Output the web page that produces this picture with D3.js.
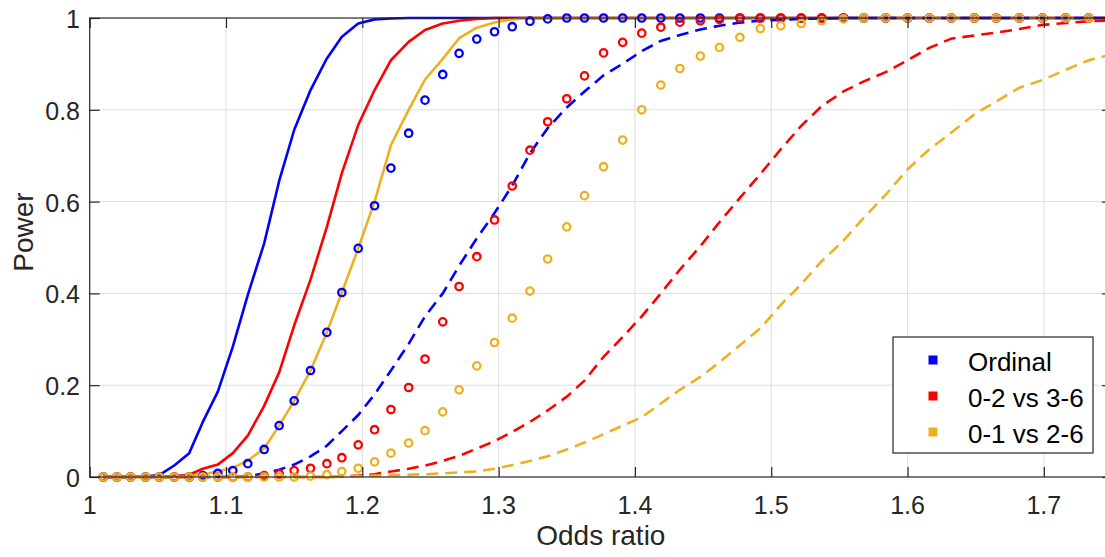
<!DOCTYPE html>
<html>
<head>
<meta charset="utf-8">
<script src="https://cdn.jsdelivr.net/npm/d3@7"></script>
<style>
  body { margin: 0; background: #fff; }
  svg { display: block; font-family: "Liberation Sans", Arial, sans-serif; }
</style>
</head>
<body>
<svg id="chart" width="1105" height="557"></svg>
<script>
// odds ratios on the x grid (one per sample)
const oddsRatio = [1.010, 1.020, 1.030, 1.041, 1.051, 1.062, 1.073, 1.083, 1.094, 1.105,
  1.116, 1.128, 1.139, 1.150, 1.162, 1.174, 1.185, 1.197, 1.209, 1.221,
  1.234, 1.246, 1.259, 1.271, 1.284, 1.297, 1.310, 1.323, 1.336, 1.350,
  1.363, 1.377, 1.391, 1.405, 1.419, 1.433, 1.448, 1.462, 1.477, 1.492,
  1.507, 1.522, 1.537, 1.553, 1.568, 1.584, 1.600, 1.616, 1.632, 1.649,
  1.665, 1.682, 1.699, 1.716, 1.733, 1.751];

// Ordinal
const ordinalSolid = [0, 0, 0, 0.001, 0.004, 0.025, 0.052, 0.12, 0.186, 0.284,
  0.397, 0.509, 0.645, 0.756, 0.843, 0.912, 0.959, 0.988, 0.997, 0.999,
  1, 1, 1, 1, 1, 1, 1, 1, 1, 1, 1, 1, 1, 1, 1, 1, 1, 1, 1, 1,
  1, 1, 1, 1, 1, 1, 1, 1, 1, 1, 1, 1, 1, 1, 1, 1];
const ordinalCircle = [0, 0, 0, 0, 0, 0, 0, 0.003, 0.008, 0.014,
  0.029, 0.06, 0.112, 0.166, 0.232, 0.315, 0.402, 0.498, 0.591, 0.673,
  0.749, 0.821, 0.877, 0.923, 0.954, 0.970, 0.981, 0.993, 0.998, 1,
  1, 1, 1, 1, 1, 1, 1, 1, 1, 1, 1, 1, 1, 1, 1, 1, 1, 1, 1, 1,
  1, 1, 1, 1, 1, 1];
const ordinalDash = [0, 0, 0, 0, 0, 0, 0, 0, 0, 0,
  0.001, 0.008, 0.016, 0.027, 0.045, 0.068, 0.100, 0.135, 0.18, 0.232,
  0.29, 0.35, 0.40, 0.46, 0.52, 0.575, 0.635, 0.705, 0.76, 0.805,
  0.84, 0.875, 0.90, 0.928, 0.95, 0.963, 0.975, 0.983, 0.99, 0.994,
  0.996, 0.998, 0.999, 1, 1, 1, 1, 1, 1, 1, 1, 1, 1, 1, 1, 1];

// 0-2 vs 3-6
const split23Solid = [0, 0, 0, 0, 0, 0.002, 0.005, 0.018, 0.027, 0.052,
  0.09, 0.155, 0.228, 0.33, 0.43, 0.545, 0.662, 0.767, 0.843, 0.908,
  0.948, 0.974, 0.988, 0.994, 0.998, 1, 1, 1, 1, 1, 1, 1, 1, 1, 1, 1,
  1, 1, 1, 1, 1, 1, 1, 1, 1, 1, 1, 1, 1, 1, 1, 1, 1, 1, 1, 1];
const split23Circle = [0, 0, 0, 0, 0, 0, 0, 0, 0, 0,
  0, 0.003, 0.007, 0.014, 0.019, 0.029, 0.042, 0.07, 0.103, 0.147,
  0.195, 0.257, 0.338, 0.415, 0.48, 0.56, 0.634, 0.712, 0.774, 0.824,
  0.874, 0.924, 0.947, 0.967, 0.98, 0.991, 0.994, 0.997, 1, 1,
  1, 1, 1, 1, 1, 1, 1, 1, 1, 1, 1, 1, 1, 1, 1, 1];
const split23Dash = [0, 0, 0, 0, 0, 0, 0, 0, 0, 0,
  0, 0, 0, 0, 0, 0, 0.001, 0.003, 0.006, 0.012,
  0.018, 0.025, 0.035, 0.046, 0.062, 0.078, 0.098, 0.12, 0.145, 0.175,
  0.21, 0.262, 0.305, 0.35, 0.40, 0.452, 0.503, 0.555, 0.608, 0.66,
  0.714, 0.765, 0.808, 0.84, 0.862, 0.882, 0.908, 0.935, 0.955, 0.962,
  0.968, 0.976, 0.985, 0.989, 0.993, 0.995];

// 0-1 vs 2-6
const split12Solid = [0, 0, 0, 0, 0, 0, 0.002, 0.006, 0.012, 0.02,
  0.036, 0.062, 0.112, 0.166, 0.232, 0.315, 0.402, 0.498, 0.6, 0.723,
  0.80, 0.866, 0.911, 0.956, 0.979, 0.99, 0.997, 1, 1, 1,
  1, 1, 1, 1, 1, 1, 1, 1, 1, 1, 1, 1, 1, 1, 1, 1, 1, 1, 1, 1,
  1, 1, 1, 1, 1, 1];
const split12Circle = [0, 0, 0, 0, 0, 0, 0, 0, 0, 0,
  0, 0, 0, 0, 0.002, 0.005, 0.012, 0.019, 0.033, 0.052,
  0.074, 0.101, 0.142, 0.19, 0.242, 0.293, 0.346, 0.405, 0.475, 0.545,
  0.613, 0.676, 0.734, 0.80, 0.854, 0.89, 0.917, 0.936, 0.958, 0.977,
  0.983, 0.988, 0.994, 0.998, 1, 1, 1, 1, 1, 1, 1, 1, 1, 1, 1, 1];
const split12Dash = [0, 0, 0, 0, 0, 0, 0, 0, 0, 0,
  0, 0, 0, 0, 0, 0, 0.001, 0.002, 0.003, 0.004,
  0.005, 0.006, 0.008, 0.01, 0.012, 0.018, 0.026, 0.035, 0.045, 0.06,
  0.075, 0.093, 0.112, 0.13, 0.16, 0.19, 0.218, 0.25, 0.287, 0.324,
  0.375, 0.42, 0.47, 0.515, 0.565, 0.615, 0.67, 0.714, 0.75, 0.79,
  0.818, 0.848, 0.865, 0.887, 0.908, 0.922];

const xTicks = [1, 1.1, 1.2, 1.3, 1.4, 1.5, 1.6, 1.7];
const yTicks = [0, 0.2, 0.4, 0.6, 0.8, 1];
const legendLabels = ["Ordinal", "0-2 vs 3-6", "0-1 vs 2-6"];

const blue = "#0000ff", red = "#ff0000", gold = "#edb120";
const axisColor = "#262626";

const svg = d3.select("#chart");
const mLeft = 89.7, mRight = 1112, mTop = 18, mBottom = 477;

const x = d3.scaleLinear().domain([1, 1.75]).range([mLeft, mRight]);
const y = d3.scaleLinear().domain([0, 1]).range([mBottom, mTop]);

// grid
svg.append("g").selectAll("line").data(xTicks.slice(1)).join("line")
  .attr("x1", d => x(d)).attr("x2", d => x(d))
  .attr("y1", mTop).attr("y2", mBottom)
  .attr("stroke", "#dedede").attr("stroke-width", 1);
svg.append("g").selectAll("line").data(yTicks.slice(1, -1)).join("line")
  .attr("x1", mLeft).attr("x2", mRight)
  .attr("y1", d => y(d)).attr("y2", d => y(d))
  .attr("stroke", "#dedede").attr("stroke-width", 1);

const plot = svg.append("g");

function series(vals) {
  return oddsRatio.map((or, i) => ({ or: or, p: vals[i] }));
}

const line = d3.line().x(d => x(d.or)).y(d => y(d.p));

const solids = [[ordinalSolid, blue], [split23Solid, red], [split12Solid, gold]];
const dashes = [[ordinalDash, blue], [split23Dash, red], [split12Dash, gold]];
const circles = [[ordinalCircle, blue], [split23Circle, red], [split12Circle, gold]];

solids.forEach(s => {
  plot.append("path").datum(series(s[0]))
    .attr("d", line).attr("fill", "none")
    .attr("stroke", s[1]).attr("stroke-width", 2.6)
    .attr("stroke-linejoin", "round");
});
dashes.forEach(s => {
  plot.append("path").datum(series(s[0]))
    .attr("d", line).attr("fill", "none")
    .attr("stroke", s[1]).attr("stroke-width", 2.6)
    .attr("stroke-dasharray", "12,7");
});
circles.forEach(s => {
  plot.append("g").selectAll("circle").data(series(s[0])).join("circle")
    .attr("cx", d => x(d.or)).attr("cy", d => y(d.p))
    .attr("r", 3.7).attr("fill", "none")
    .attr("stroke", s[1]).attr("stroke-width", 2.3);
});

// axes box with inward ticks
const xAxisB = d3.axisBottom(x).tickValues(xTicks).tickSize(-10).tickFormat("");
const xAxisT = d3.axisTop(x).tickValues(xTicks).tickSize(-10).tickFormat("");
const yAxisL = d3.axisLeft(y).tickValues(yTicks).tickSize(-10).tickFormat("");
const yAxisR = d3.axisRight(y).tickValues(yTicks).tickSize(-10).tickFormat("");

[[xAxisB, `translate(0,${mBottom})`], [xAxisT, `translate(0,${mTop})`],
 [yAxisL, `translate(${mLeft},0)`], [yAxisR, `translate(${mRight},0)`]].forEach(a => {
  const g = svg.append("g").attr("transform", a[1]).call(a[0]);
  g.selectAll("path, line").attr("stroke", axisColor).attr("stroke-width", 1.2);
  g.select(".domain").remove();
});
// box outline
svg.append("rect").attr("x", mLeft).attr("y", mTop)
  .attr("width", mRight - mLeft).attr("height", mBottom - mTop)
  .attr("fill", "none").attr("stroke", axisColor).attr("stroke-width", 1.2);

// tick labels
svg.append("g").selectAll("text").data(xTicks).join("text")
  .attr("x", d => x(d)).attr("y", 514)
  .attr("text-anchor", "middle").attr("font-size", 25).attr("fill", axisColor)
  .text(d => d3.format("")(d));
svg.append("g").selectAll("text").data(yTicks).join("text")
  .attr("x", 80).attr("y", d => y(d) + 10)
  .attr("text-anchor", "end").attr("font-size", 25).attr("fill", axisColor)
  .text(d => d3.format("")(d));

// axis titles
svg.append("text").attr("x", (mLeft + mRight) / 2).attr("y", 545)
  .attr("text-anchor", "middle").attr("font-size", 28).attr("fill", axisColor)
  .text("Odds ratio");
svg.append("text").attr("transform", "translate(33,232) rotate(-90)")
  .attr("text-anchor", "middle").attr("font-size", 28).attr("fill", axisColor)
  .text("Power");

// legend
const leg = svg.append("g");
leg.append("rect").attr("x", 893).attr("y", 337).attr("width", 200).attr("height", 116)
  .attr("fill", "#fff").attr("stroke", axisColor).attr("stroke-width", 1.2);
const legColors = [blue, red, gold];
legendLabels.forEach((lab, i) => {
  const cy = 360 + i * 36;
  leg.append("rect").attr("x", 928.5).attr("y", cy - 4.5).attr("width", 9).attr("height", 9)
    .attr("fill", legColors[i]);
  leg.append("text").attr("x", 968).attr("y", cy + 11)
    .attr("font-size", 26).attr("fill", "#000").text(lab);
});
</script>
</body>
</html>
